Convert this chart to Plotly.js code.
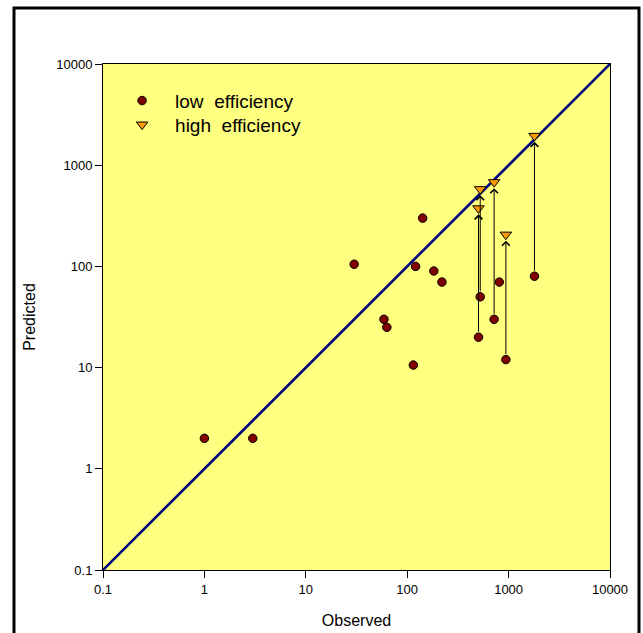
<!DOCTYPE html>
<html>
<head>
<meta charset="utf-8">
<script src="https://cdn.plot.ly/plotly-3.0.1.min.js"></script>
<style>html,body{margin:0;padding:0;background:#fff;}#chart{width:643px;height:633px;}</style>
</head>
<body>
<div id="chart"></div>
<script>
// Data
var lowObs  = [1, 3, 30, 59, 63, 115, 121, 142, 183, 220, 505, 525, 720, 810, 940, 1800];
var lowPred = [2, 2, 105, 30, 25, 10.6, 100, 300, 90, 70, 20, 50, 30, 70, 12, 80];
var highObs  = [505, 525, 720, 940, 1800];
var highPred = [375, 580, 680, 206, 1950];
// low-efficiency prediction at the start of each arrow (same observed value)
var arrowFromPred = [20, 50, 30, 12, 80];
var diagonal = [0.1, 10000];
var tickVals = [0.1, 1, 10, 100, 1000, 10000];
var tickText = ['0.1', '1', '10', '100', '1000', '10000'];

var FONT = 'Liberation Sans, Arial, sans-serif';

var traces = [
  {x: diagonal, y: diagonal, mode: 'lines', line: {color: '#000080', width: 2.6},
   showlegend: false, hoverinfo: 'skip'},
  {x: lowObs, y: lowPred, mode: 'markers', name: 'low\u00a0\u00a0efficiency', legend: 'legend',
   marker: {symbol: 'circle', size: 8.5, color: '#800000', line: {color: '#000', width: 1}}},
  {x: highObs, y: highPred, mode: 'markers', name: 'high\u00a0\u00a0efficiency', legend: 'legend2',
   marker: {symbol: 'triangle-down', size: 10, color: '#ff9900', line: {color: '#000', width: 1}}}
];

var annotations = highObs.map(function (o, i) {
  return {
    x: Math.log10(o), y: Math.log10(highPred[i]),
    ax: Math.log10(o), ay: Math.log10(arrowFromPred[i]),
    xref: 'x', yref: 'y', axref: 'x', ayref: 'y',
    text: '', showarrow: true, arrowhead: 4, arrowsize: 1.5, arrowwidth: 1,
    arrowcolor: '#000', standoff: 6, startstandoff: 4
  };
});

var axisCommon = {
  type: 'log', range: [-1, 4], tickvals: tickVals, ticktext: tickText,
  ticks: 'outside', ticklen: 7, tickwidth: 1, tickcolor: '#000',
  showline: true, linecolor: '#000', linewidth: 1, mirror: true,
  showgrid: false, zeroline: false,
  tickfont: {family: FONT, size: 13, color: '#000'}
};

var legendCommon = {
  xanchor: 'left', yanchor: 'top',
  bgcolor: 'rgba(0,0,0,0)', borderwidth: 0, itemwidth: 56,
  font: {family: FONT, size: 19, color: '#000'}
};

var layout = {
  width: 643, height: 633,
  margin: {l: 103, r: 33, t: 64, b: 63},
  paper_bgcolor: '#fff', plot_bgcolor: '#ffff80',
  font: {family: FONT, color: '#000'},
  xaxis: Object.assign({}, axisCommon, {
    title: {text: 'Observed', font: {family: FONT, size: 16, color: '#000'}, standoff: 19}
  }),
  yaxis: Object.assign({}, axisCommon, {
    title: {text: 'Predicted', font: {family: FONT, size: 16, color: '#000'}, standoff: 16}
  }),
  legend: Object.assign({}, legendCommon, {x: 0.012, y: 0.965}),
  legend2: Object.assign({}, legendCommon, {x: 0.012, y: 0.9176}),
  annotations: annotations,
  shapes: [{
    type: 'rect', xref: 'paper', yref: 'paper',
    x0: (14 - 103) / 507, x1: (639 - 103) / 507,
    y0: (570 - 660) / 506, y1: (570 - 8) / 506,
    line: {color: '#000', width: 3}, fillcolor: 'rgba(0,0,0,0)', layer: 'below'
  }],
  showlegend: true
};

Plotly.newPlot('chart', traces, layout, {displayModeBar: false, staticPlot: true});
</script>
</body>
</html>
